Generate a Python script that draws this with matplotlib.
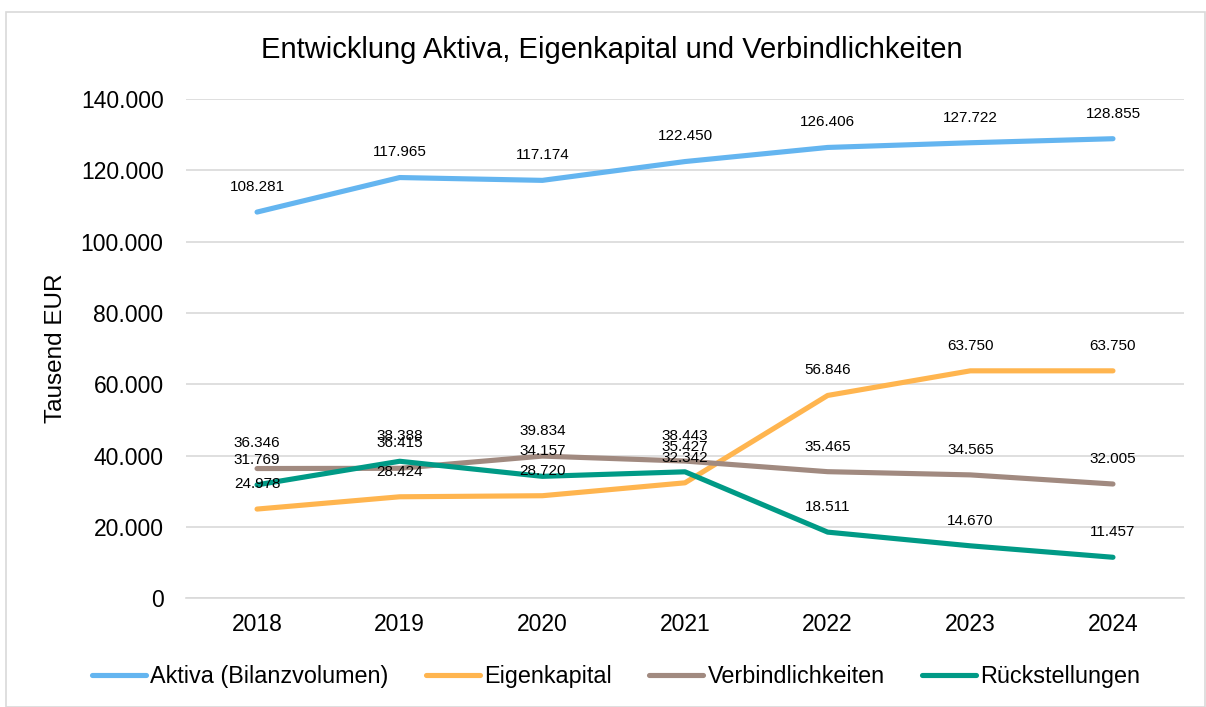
import matplotlib
matplotlib.use("Agg")
import matplotlib.pyplot as plt
from matplotlib.patches import Rectangle
from matplotlib.ticker import FuncFormatter

plt.rcParams['font.family'] = ['Liberation Sans', 'DejaVu Sans']

years = ['2018', '2019', '2020', '2021', '2022', '2023', '2024']
aktiva = [108281, 117965, 117174, 122450, 126406, 127722, 128855]
eigenkapital = [24978, 28424, 28720, 32342, 56846, 63750, 63750]
verbindlichkeiten = [36346, 36415, 39834, 38443, 35465, 34565, 32005]
rueckstellungen = [31769, 38388, 34157, 35427, 18511, 14670, 11457]

series = [
    ('Aktiva (Bilanzvolumen)', aktiva, '#64B5F0'),
    ('Eigenkapital', eigenkapital, '#FFB54F'),
    ('Verbindlichkeiten', verbindlichkeiten, '#A18A80'),
    ('Rückstellungen', rueckstellungen, '#009A86'),
]


def de_fmt(v, pos=None):
    return f"{int(round(v)):,}".replace(',', '.')


fig = plt.figure(figsize=(12.06, 7.07), dpi=100)
ax = fig.add_axes([0.154, 0.154, 0.828, 0.706])

# chart border
fig.patches.append(Rectangle((0.005, 0.0), 0.994, 0.983, transform=fig.transFigure,
                             fill=False, edgecolor='#d9d9d9', linewidth=1.2))

x = list(range(len(years)))
for name, vals, color in series:
    ax.plot(x, vals, color=color, linewidth=3.7, label=name, solid_capstyle='round')
    for xi, v in zip(x, vals):
        ax.annotate(de_fmt(v), (xi, v), xytext=(0, 13), textcoords='offset points',
                    ha='center', va='bottom', fontsize=11, color='#000000')

ax.set_xlim(-0.5, len(years) - 0.5)
ax.set_ylim(0, 140000)
ax.set_yticks(range(0, 140001, 20000))
ax.yaxis.set_major_formatter(FuncFormatter(de_fmt))
ax.set_xticks(x)
ax.set_xticklabels(years)
ax.tick_params(axis='both', length=0, labelsize=16.5, colors='#000000')
ax.tick_params(axis='x', pad=11)
ax.tick_params(axis='y', pad=16)
ax.grid(axis='y', color='#d9d9d9', linewidth=1.2)
ax.set_axisbelow(True)
for s in ['top', 'right', 'left']:
    ax.spines[s].set_visible(False)
ax.spines['bottom'].set_color('#d9d9d9')
ax.spines['bottom'].set_linewidth(1.2)

ax.set_ylabel('Tausend EUR', fontsize=17.5, labelpad=10)
fig.text(0.507, 0.929, 'Entwicklung Aktiva, Eigenkapital und Verbindlichkeiten',
         ha='center', va='center', fontsize=21)

fig.legend(loc='center', bbox_to_anchor=(0.511, 0.043), ncol=4, frameon=False,
           fontsize=16.8, handlelength=2.3, handletextpad=0.2, columnspacing=1.6)

fig.savefig('out.png', dpi=100)
